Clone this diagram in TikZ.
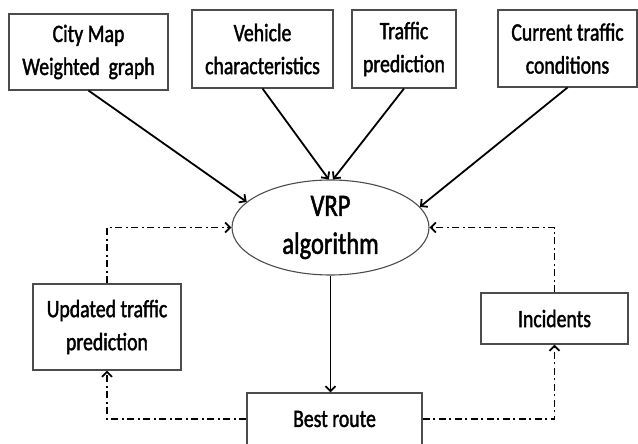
\documentclass[tikz,border=0pt]{standalone}
\usepackage{fontspec}
\setmainfont[FakeStretch=0.79,FakeBold=1.6]{Carlito}
\usetikzlibrary{shapes.geometric,arrows.meta}

\begin{document}
\begin{tikzpicture}[x=1pt,y=-1pt,
  box/.style={draw=black!70, line width=1.1pt, align=center, inner sep=0pt,
    font=\fontsize{25}{33}\selectfont},
  flow/.style={line width=1.8pt, -{Straight Barb[length=5pt,width=10pt]}},
  feedback/.style={flow, dash pattern=on 7pt off 3.5pt on 2pt off 3.5pt}]
  \useasboundingbox (0,0) rectangle (638,444);
  % inputs
  \node[box, minimum width=159, minimum height=76] (city) at (88.5,52) {City Map\\Weighted\ \ graph};
  \node[box, minimum width=141, minimum height=78] (vehicle) at (262.5,49) {Vehicle\\characteristics};
  \node[box, minimum width=104, minimum height=78] (traffic) at (404,49) {Traffic\\prediction};
  \node[box, minimum width=139, minimum height=77] (current) at (567.5,48.5) {Current traffic\\conditions};
  % algorithm and results
  \node[box, ellipse, minimum width=197, minimum height=95,
    font=\fontsize{31}{38}\selectfont] (vrp) at (330.5,227.5) {VRP\\algorithm};
  \node[box, minimum width=148, minimum height=86] (upd) at (107,327) {Updated traffic\\prediction};
  \node[box, minimum width=147, minimum height=51] (inc) at (554.5,318.5) {Incidents};
  \node[box, minimum width=175, minimum height=52] (best) at (334.5,419) {Best route};
  % arrows
  \draw[flow] (city.south) -- (vrp.163);
  \draw[flow] (vehicle.south) -- (vrp.92);
  \draw[flow] (traffic.south) -- (vrp.87);
  \draw[flow] (current.south) -- (vrp.13);
  \draw[flow] (vrp.south) -- (vrp.south |- best.north);
  \draw[feedback] (upd.north) |- (vrp.west);
  \draw[feedback] (best.west) -| (upd.south);
  \draw[feedback] (best.east) -| (inc.south);
  \draw[feedback] (inc.north) |- (vrp.east);
\end{tikzpicture}
\end{document}
